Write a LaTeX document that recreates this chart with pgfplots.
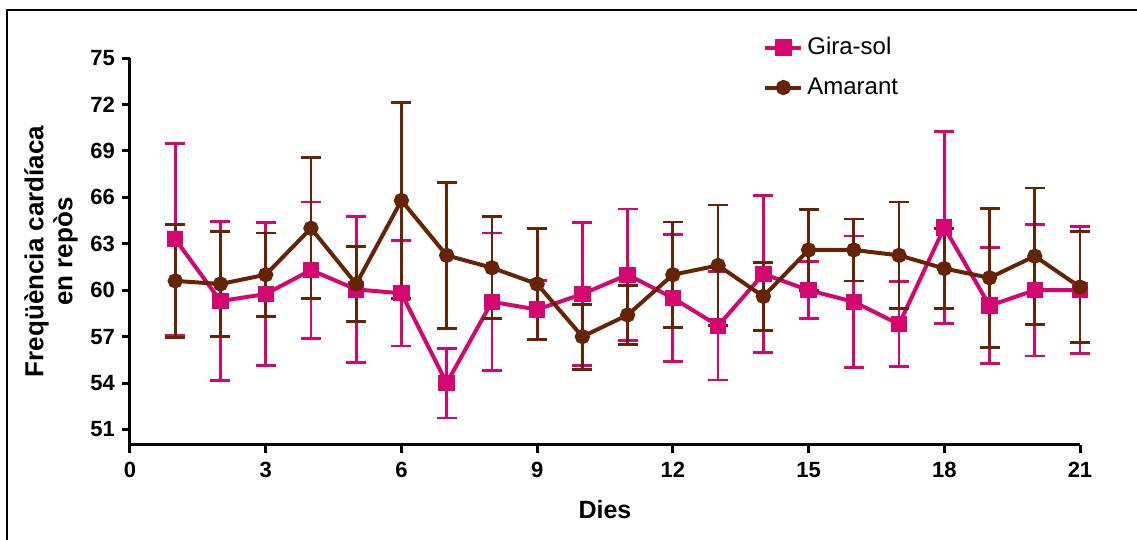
\documentclass[border=0pt]{standalone}
\usepackage{fontspec}
\setmainfont{Liberation Sans}
\usepackage{pgfplots}
\pgfplotsset{compat=1.18}
\usepackage{pgfplotstable}
\definecolor{girasol}{RGB}{212,6,112}
\definecolor{amarant}{RGB}{102,36,4}

% day, mean, error
\pgfplotstableread{
x y e
1 63.3 6.2
2 59.3 5.15
3 59.75 4.6
4 61.3 4.4
5 60.05 4.7
6 59.8 3.4
7 54.0 2.25
8 59.25 4.45
9 58.75 1.9
10 59.75 4.6
11 61.0 4.25
12 59.5 4.1
13 57.7 3.5
14 61.05 5.05
15 60.0 1.85
16 59.25 4.25
17 57.8 2.75
18 64.05 6.2
19 59.0 3.75
20 60.0 4.25
21 60.0 4.1
}\girasoltab

\pgfplotstableread{
x y e
1 60.6 3.65
2 60.4 3.4
3 61.0 2.7
4 64.0 4.55
5 60.4 2.4
6 65.8 6.35
7 62.25 4.7
8 61.45 3.3
9 60.4 3.6
10 57.0 2.1
11 58.4 1.9
12 61.0 3.4
13 61.6 3.9
14 59.6 2.2
15 62.6 2.6
16 62.6 2.0
17 62.25 3.45
18 61.4 2.6
19 60.8 4.5
20 62.2 4.4
21 60.2 3.6
}\amaranttab

\begin{document}
\begin{tikzpicture}
% picture area: 1 px = 0.5pt, axis origin at pixel (130,445)
\path[use as bounding box] (-65pt,-47.5pt) rectangle (503.5pt,222.5pt);
\draw[line width=1pt] (-61.5pt,-60pt) -- (-61.5pt,217.25pt) -- (520pt,217.25pt);
\begin{axis}[
    scale only axis,
    width=475pt, height=193.5pt,
    xmin=0, xmax=21, ymin=50, ymax=75,
    axis lines=left,
    axis line style={-, line width=1.5pt},
    xtick={0,3,...,21},
    ytick={51,54,...,75},
    tick align=outside,
    major tick length=4pt,
    tick style={line width=1.5pt, black},
    /pgf/number format/assume math mode=true,
    ticklabel style={font=\bfseries\fontsize{11}{12}\selectfont},
    xticklabel style={yshift=-1pt},
    xlabel={Dies},
    ylabel={Freqüència cardíaca\\en repòs},
    xlabel style={at={(axis description cs:0.5,-0.168)}, anchor=center,
        font=\bfseries\fontsize{12.5}{13}\selectfont},
    ylabel style={at={(axis description cs:-0.083,0.5)}, anchor=center, rotate=0,
        align=center, font=\bfseries\fontsize{13}{14.5}\selectfont},
    legend style={draw=none, fill=none, at={(axis description cs:0.66,1.075)},
        anchor=north west, font=\fontsize{12}{14}\selectfont,
        row sep=6pt},
    legend cell align=left,
    legend image code/.code={\draw[mark repeat=2, mark phase=2, #1]
        plot coordinates {(-2pt,0pt) (7pt,0pt) (16pt,0pt)};},
    clip=false,
]
\addplot[color=girasol, line width=2pt, mark=square*, mark size=3.1pt,
    mark options={solid},
    error bars/.cd, y dir=both, y explicit,
    error bar style={line width=1.4pt, girasol},
    error mark options={rotate=90, mark size=5pt, line width=1.4pt, girasol}]
    table[x=x, y=y, y error=e] {\girasoltab};
\addlegendentry{Gira-sol}
\addplot[color=amarant, line width=2pt, mark=*, mark size=2.8pt,
    mark options={solid},
    error bars/.cd, y dir=both, y explicit,
    error bar style={line width=1.4pt, amarant},
    error mark options={rotate=90, mark size=5pt, line width=1.4pt, amarant}]
    table[x=x, y=y, y error=e] {\amaranttab};
\addlegendentry{Amarant}
\end{axis}
\end{tikzpicture}
\end{document}
